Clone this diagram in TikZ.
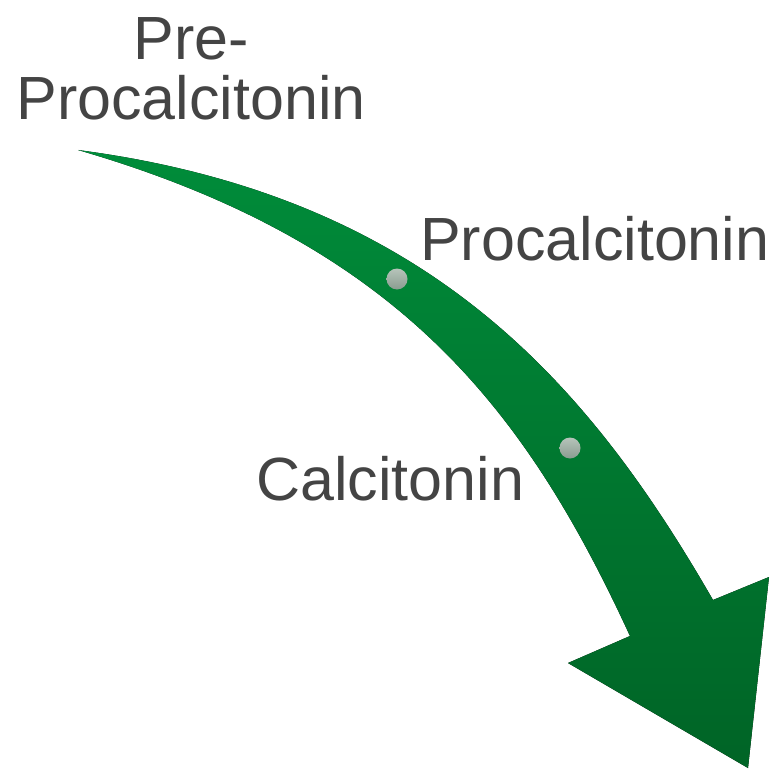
\documentclass[tikz,border=0pt]{standalone}
\usepackage{fontspec}
\setmainfont{Liberation Sans}
\usepackage{tikz}
\usepackage{xcolor}
\usetikzlibrary{calc}

\definecolor{arrowtop}{RGB}{0,140,58}
\definecolor{arrowbot}{RGB}{0,100,38}
\definecolor{dotlight}{RGB}{182,196,186}
\definecolor{dotdark}{RGB}{138,156,144}
\definecolor{labelgray}{RGB}{68,68,68}

\begin{document}
\begin{tikzpicture}[
          x=1pt, y=-1pt,
          lbl/.style={inner sep=0pt, text=labelgray, font=\fontsize{61}{60}\selectfont},
          dot/.style={circle, inner sep=0pt, minimum size=21pt, top color=dotlight, bottom color=dotdark}
      ]
        \useasboundingbox (0,0) rectangle (769,770);
        % curved arrow
        \fill[top color=arrowtop, bottom color=arrowbot]
          (78,150) .. controls (428,196) and (588,383) .. (713,600)
          -- (769,577) -- (748,768) -- (568,663) -- (630,636)
          .. controls (525,408) and (398,243) .. (78,150) -- cycle;
        \node[dot] (prodot) at (397,279) {};
        \node[dot] (caldot) at (570,448) {};
        \node[lbl, align=center, anchor=north] (pre) at (191,17) {Pre-\\Procalcitonin};
        \node[lbl, anchor=base west] (pro) at (420,260) {Procalcitonin};
        \node[lbl, anchor=base west] (cal) at (256,500) {Calcitonin};
      \end{tikzpicture}
\end{document}
